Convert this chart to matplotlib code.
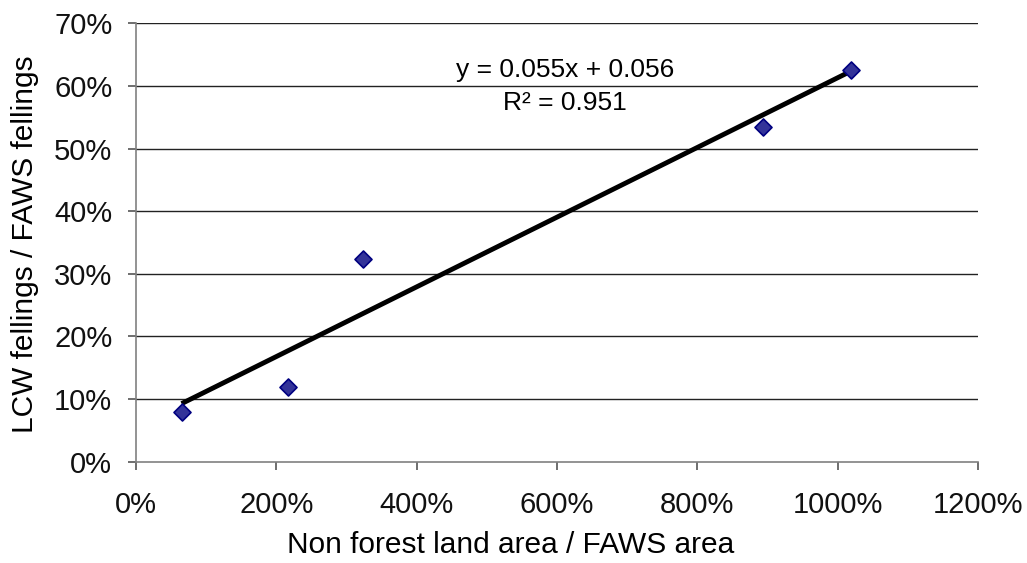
import numpy as np
import matplotlib
matplotlib.use("Agg")
import matplotlib.pyplot as plt
from matplotlib.ticker import FuncFormatter

# Data (fractions)
x_vals = [0.65, 2.17, 3.24, 8.94, 10.195]
y_vals = [0.080, 0.120, 0.324, 0.535, 0.626]
x_ticks = [0, 2, 4, 6, 8, 10, 12]
y_ticks = [0, 0.1, 0.2, 0.3, 0.4, 0.5, 0.6, 0.7]
eq_text = "y = 0.055x + 0.056"
r2_text = "R² = 0.951"
x_label = "Non forest land area / FAWS area"
y_label = "LCW fellings / FAWS fellings"

plt.rcParams['font.family'] = ['Liberation Sans', 'DejaVu Sans']
FS_TICK = 21
FS_LAB = 21.5
FS_EQ = 19

W, H = 1027, 563
fig = plt.figure(figsize=(W / 100, H / 100), dpi=100)
ax = fig.add_axes([0.1324, 0.1799, 0.8199, 0.7787])

ax.set_xlim(0, 12)
ax.set_ylim(0, 0.7)
ax.set_xticks(x_ticks)
ax.set_yticks(y_ticks)
ax.xaxis.set_major_formatter(FuncFormatter(lambda v, p: f"{v*100:.0f}%"))
ax.yaxis.set_major_formatter(FuncFormatter(lambda v, p: f"{v*100:.0f}%"))

for yt in y_ticks[1:]:
    ax.axhline(yt, color='#222222', lw=1.0, zorder=1)

for s in ['top', 'right']:
    ax.spines[s].set_visible(False)
for s in ['left', 'bottom']:
    ax.spines[s].set_color('#808080')
    ax.spines[s].set_linewidth(1.2)
ax.tick_params(axis='both', direction='out', length=6, width=1.2, color='#555555',
               labelsize=FS_TICK, labelcolor='#111111')
ax.tick_params(axis='x', pad=15)
ax.tick_params(axis='y', pad=11)

# Trendline from least-squares fit
xa = np.array(x_vals)
ya = np.array(y_vals)
m, b = np.polyfit(xa, ya, 1)
xl = np.array([xa.min(), xa.max()])
ax.plot(xl, m * xl + b, color='black', lw=3.5, zorder=3, solid_capstyle='butt')

ax.scatter(x_vals, y_vals, marker='D', s=75, facecolor='#333399', edgecolor='#000080',
           linewidth=1.2, zorder=4)

ax.text(6.11, 0.626, eq_text, ha='center', va='center', fontsize=FS_EQ)
ax.text(6.11, 0.573, r2_text, ha='center', va='center', fontsize=FS_EQ)

# Axis titles positioned in figure pixels
fig.text(511 / W, 1 - 545 / H, x_label, ha='center', va='center', fontsize=FS_LAB)
fig.text(25 / W, 1 - 244 / H, y_label, ha='center', va='center', rotation=90,
         fontsize=FS_LAB)

fig.savefig("out.png", dpi=100)
